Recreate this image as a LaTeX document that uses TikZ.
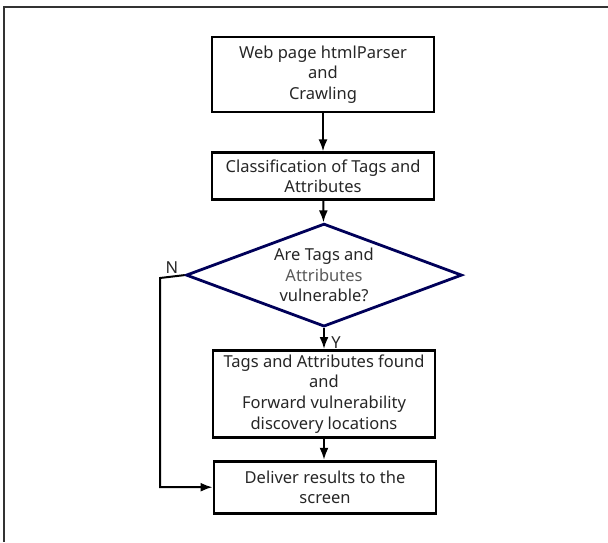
\documentclass[tikz,border=0pt]{standalone}
\usepackage{fontspec}
\setmainfont{Noto Sans}
\usetikzlibrary{positioning,arrows.meta,shapes.geometric}
\tikzset{
    stepbox/.style={
        draw=black, line width=2.8pt, rectangle, align=center,
        minimum width=222pt, inner sep=2pt, text=black!85,
        font=\fontsize{16.5}{20.7}\selectfont
    },
    decide/.style={
        diamond, draw=blue!35!black, line width=2.8pt, aspect=2.65,
        minimum width=276pt, minimum height=103pt, inner sep=0pt,
        align=center, text=black!85,
        font=\fontsize{16.5}{20.7}\selectfont
    },
    flow/.style={-Latex, line width=2pt, black}
}

\begin{document}
\begin{tikzpicture}[
    x=1pt, y=1pt,
    >={Latex[length=9pt,width=8pt]}
]
\useasboundingbox (0,0) rectangle (608,-542);

% ==== frame ====
\coordinate (frametl) at (4,-7);
\draw[line width=2pt, black!80] (608,-7) -- (frametl) -- (4,-542);

% ===============================================================
% ==== Steps ====
% ===============================================================
\node[stepbox, minimum height=75pt] (parse) at (323,-74.5)
    {Web page htmlParser\\and\\Crawling};

\node[stepbox, minimum height=47pt, below=38pt of parse] (classify)
    {Classification of Tags and\\Attributes};

% === decision ===
\node[decide, below=21pt of classify, xshift=1pt] (vuln)
    {Are Tags and\\{\color{black!65}Attributes}\\vulnerable?};

\node[stepbox, minimum height=87pt, below=21pt of vuln] (found)
    {Tags and Attributes found\\and\\Forward vulnerability\\discovery locations};

\node[stepbox, minimum height=52pt, below=21pt of found, xshift=1pt] (deliver)
    {Deliver results to the\\screen};

% ==== labels ====
\node[font=\fontsize{16.5}{18}\selectfont, text=black!85] (nlabel) at (172,-268) {N};
\node[font=\fontsize{16.5}{18}\selectfont, text=black!85] (ylabel) at (336,-343) {Y};

% 箭头
\coordinate (nturn) at (160,-278);
\draw[flow] (parse) -- (classify);
\draw[flow] (classify) -- (vuln);
\draw[flow] (vuln.south) -- (vuln.south |- found.north);
\draw[flow] (found) -- (found.south |- deliver.north);
\draw[flow] (vuln.west) -- (nturn) |- (deliver.west);

\end{tikzpicture}
\end{document}
